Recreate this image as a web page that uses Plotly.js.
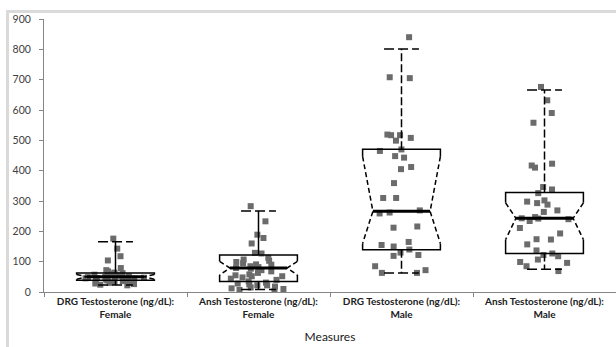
<!DOCTYPE html>
<html>
<head>
<meta charset="utf-8">
<script src="https://cdn.plot.ly/plotly-3.0.1.min.js"></script>
<style>
html,body{margin:0;padding:0;background:#fff;}
#wrap{position:relative;width:616px;height:347px;overflow:hidden;background:#fff;}
#chart{position:absolute;left:0;top:0;width:616px;height:347px;}
.bt{position:absolute;left:6px;top:10px;width:610px;height:3px;background:#dadada;z-index:5;}
.bl{position:absolute;left:6px;top:10px;width:3px;height:337px;background:#dadada;z-index:5;}
</style>
</head>
<body>
<div id="wrap"><div id="chart"></div><div class="bt"></div><div class="bl"></div></div>
<script>
// ---- data ----
const categories = [
  "DRG Testosterone (ng/dL):<br>Female",
  "Ansh Testosterone (ng/dL):<br>Female",
  "DRG Testosterone (ng/dL):<br>Male",
  "Ansh Testosterone (ng/dL):<br>Male"
];
const drgFemale = [176, 143, 118, 104, 79, 72, 68, 64, 62, 60, 58, 57, 55, 54, 52, 51, 50, 49, 48, 47, 46, 45, 44, 42, 41, 40, 38, 36, 34, 33, 30, 28, 26, 24, 22];
const anshFemale = [283, 233, 189, 178, 160, 129, 127, 113, 107, 103, 99, 95, 91, 90, 85, 82, 79, 77, 72, 68, 63, 58, 55, 52, 52, 48, 44, 40, 35, 31, 28, 25, 22, 22, 18, 15, 12, 10, 7, 4];
const drgMale = [840, 708, 705, 519, 517, 517, 508, 499, 470, 465, 448, 443, 412, 405, 359, 310, 310, 269, 262, 259, 216, 212, 165, 155, 150, 140, 130, 122, 119, 85, 72, 63, 63];
const anshMale = [676, 632, 590, 558, 423, 417, 410, 346, 338, 326, 302, 298, 293, 288, 269, 264, 247, 243, 242, 240, 234, 211, 193, 174, 173, 157, 137, 127, 122, 118, 107, 99, 96, 85, 69];
const q1 = [39, 35, 139, 127];
const median = [50, 79, 266, 243];
const q3 = [63, 122, 471, 328];
const whiskerLow = [23, 8, 63, 75];
const whiskerHigh = [166, 267, 801, 666];
const notchLow = [42, 56, 160, 173];
const notchHigh = [58, 101, 447, 294];
const seriesValues = [drgFemale, anshFemale, drgMale, anshMale];

// ---- styles ----
const BOX_HW = 0.272, NOTCH_HW = 0.2, CAP_HW = 0.122;
const whiskerDash = ['solid', 'solid', '8px,3px', '8px,3px'];
const LINE_W = 1.5;

const traces = [];
const solidX = [], solidY = [], diagX = [], diagY = [], medX = [], medY = [], capX = [], capY = [];
categories.forEach((c, i) => {
  const L = i - BOX_HW, R = i + BOX_HW, nl = i - NOTCH_HW, nr = i + NOTCH_HW;
  solidX.push(L, L, R, R, null, L, L, R, R, null);
  solidY.push(notchHigh[i], q3[i], q3[i], notchHigh[i], null, notchLow[i], q1[i], q1[i], notchLow[i], null);
  diagX.push(L, nl, L, null, R, nr, R, null);
  diagY.push(notchHigh[i], median[i], notchLow[i], null, notchHigh[i], median[i], notchLow[i], null);
  medX.push(nl, nr, null);
  medY.push(median[i], median[i], null);
  capX.push(i - CAP_HW, i + CAP_HW, null, i - CAP_HW, i + CAP_HW, null);
  capY.push(whiskerHigh[i], whiskerHigh[i], null, whiskerLow[i], whiskerLow[i], null);
  traces.push({type:'scatter', mode:'lines', x:[i, i, null, i, i], y:[q3[i], whiskerHigh[i], null, q1[i], whiskerLow[i]],
    line:{color:'#000', width:LINE_W, dash:whiskerDash[i]}, hoverinfo:'skip', showlegend:false});
});
traces.push({type:'scatter', mode:'lines', x:solidX, y:solidY, line:{color:'#000', width:LINE_W}, hoverinfo:'skip', showlegend:false});
traces.push({type:'scatter', mode:'lines', x:diagX, y:diagY, line:{color:'#000', width:LINE_W, dash:'5px,3px'}, hoverinfo:'skip', showlegend:false});
traces.push({type:'scatter', mode:'lines', x:capX, y:capY, line:{color:'#000', width:LINE_W, dash:'10px,4px'}, hoverinfo:'skip', showlegend:false});
traces.push({type:'scatter', mode:'lines', x:medX, y:medY, line:{color:'#000', width:3}, hoverinfo:'skip', showlegend:false});

seriesValues.forEach((vals, i) => {
  traces.push({type:'box', x0:i, y:vals, name:categories[i], boxpoints:'all', jitter:0.9, pointpos:0, width:0.5,
    line:{width:0, color:'rgba(0,0,0,0)'}, fillcolor:'rgba(0,0,0,0)',
    marker:{symbol:'square', size:6, color:'#6b6b6b'}, showlegend:false, hoverinfo:'y'});
});

const layout = {
  width:616, height:347,
  margin:{l:44, r:0, t:19, b:55},
  paper_bgcolor:'#fff', plot_bgcolor:'#fff',
  font:{family:'Lato, "Open Sans", sans-serif', color:'#404040', size:10},
  boxmode:'overlay',
  showlegend:false,
  xaxis:{
    range:[-0.5, 3.5], tickmode:'array', tickvals:[0,1,2,3], ticktext:categories,
    ticks:'', showgrid:false, zeroline:false, showline:true, linecolor:'#868686', linewidth:1,
    tickfont:{size:10, color:'#202020', weight:'bold'},
    minor:{tickmode:'array', tickvals:[-0.5,0.5,1.5,2.5,3.5], ticks:'outside', ticklen:4, tickcolor:'#868686', showgrid:false},
    title:{text:'Measures', font:{size:12, color:'#202020'}, standoff:13}
  },
  yaxis:{
    range:[0,900], dtick:100, tick0:0, ticks:'outside', ticklen:4, tickcolor:'#868686',
    showgrid:false, zeroline:false, showline:true, linecolor:'#868686', linewidth:1,
    tickfont:{size:10.5, color:'#404040'}, ticklabelstandoff:6
  }
};
Plotly.newPlot('chart', traces, layout, {staticPlot:true, displayModeBar:false});
</script>
</body>
</html>
